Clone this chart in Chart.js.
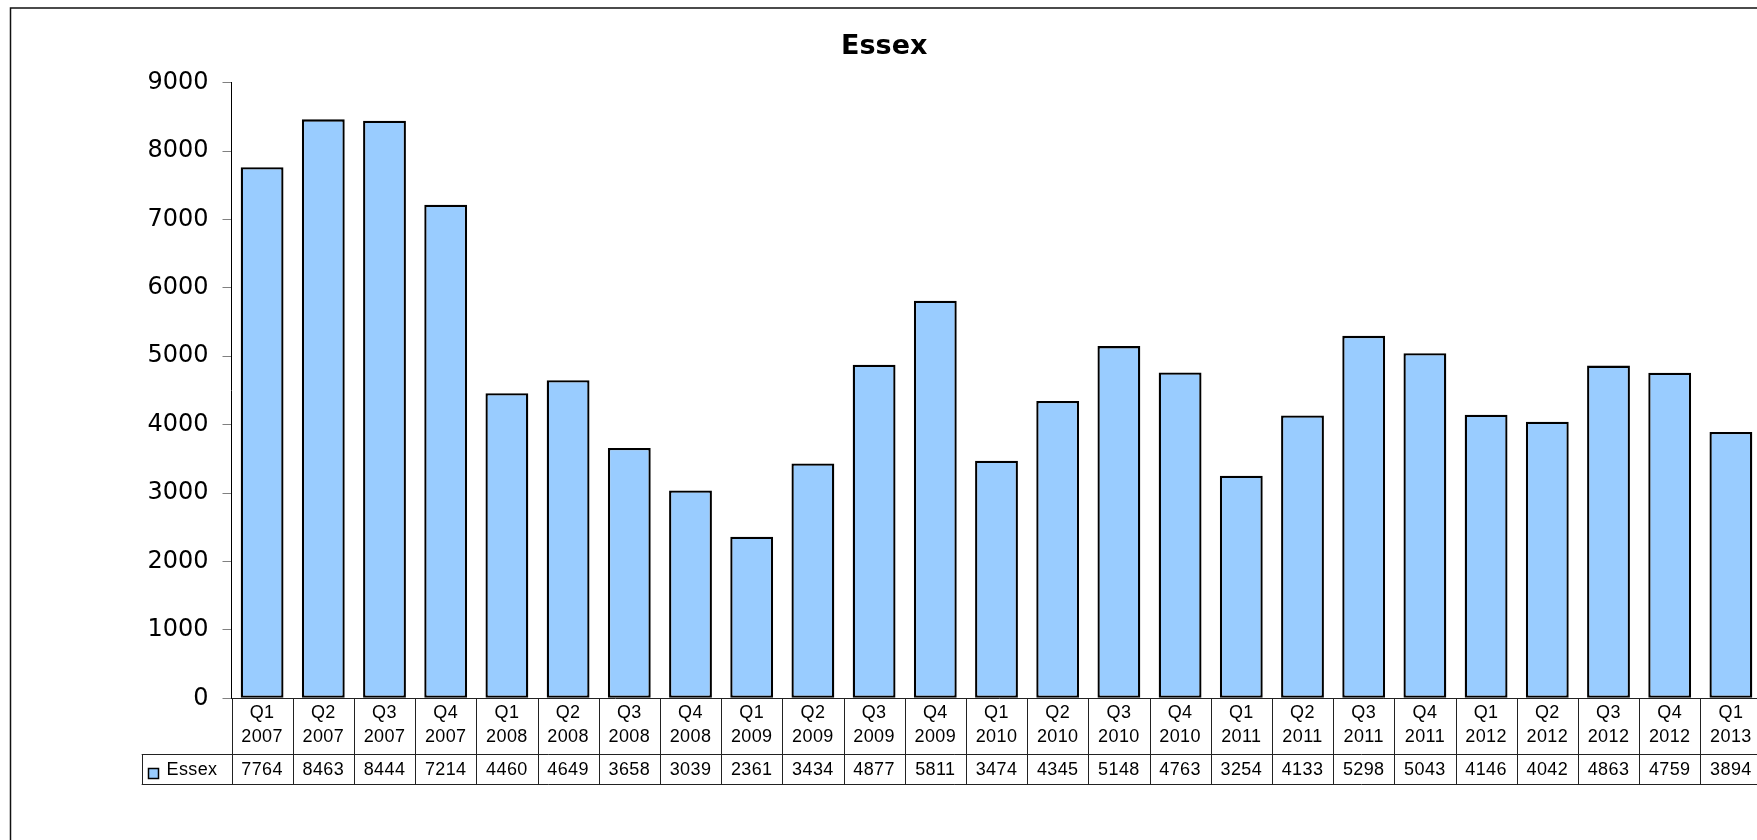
<!DOCTYPE html>
<html>
<head>
<meta charset="utf-8">
<title>Essex</title>
<script src="https://cdn.jsdelivr.net/npm/chart.js@4/dist/chart.umd.min.js"></script>
<style>
  html, body { margin: 0; padding: 0; background: #fff; overflow: hidden; width: 1757px; height: 840px; }
  #wrap { position: absolute; left: 0; top: 0; width: 1768px; height: 840px; }
</style>
</head>
<body>
<div id="wrap"><canvas id="c" width="1768" height="840"></canvas></div>
<script>
// Quarterly figures for Essex, Q1 2007 - Q1 2013
const quarters = ['Q1','Q2','Q3','Q4','Q1','Q2','Q3','Q4','Q1','Q2','Q3','Q4','Q1','Q2','Q3','Q4','Q1','Q2','Q3','Q4','Q1','Q2','Q3','Q4','Q1'];
const years = ['2007','2007','2007','2007','2008','2008','2008','2008','2009','2009','2009','2009','2010','2010','2010','2010','2011','2011','2011','2011','2012','2012','2012','2012','2013'];
const essex = [7764, 8463, 8444, 7214, 4460, 4649, 3658, 3039, 2361, 3434, 4877, 5811, 3474, 4345, 5148, 4763, 3254, 4133, 5298, 5043, 4146, 4042, 4863, 4759, 3894];
const seriesName = 'Essex';
const yMin = 0, yMax = 9000, yStep = 1000;

const labels = quarters.map((q, i) => q + ' ' + years[i]);
const BAR_FILL = '#99CCFF';
const TABLE_FONT = '18px "Liberation Sans", Arial, sans-serif';

// Outer frame of the chart object
const framePlugin = {
  id: 'frame',
  beforeDraw(chart) {
    const ctx = chart.ctx;
    ctx.save();
    ctx.strokeStyle = '#111';
    ctx.lineWidth = 1.5;
    ctx.beginPath();
    ctx.moveTo(10.5, chart.height + 5);
    ctx.lineTo(10.5, 8);
    ctx.lineTo(chart.width + 5, 8);
    ctx.stroke();
    ctx.restore();
  }
};

// Data table under the plot: category rows plus a legend/value row
const tablePlugin = {
  id: 'dataTable',
  afterDraw(chart) {
    const ctx = chart.ctx;
    const xs = chart.scales.x;
    const area = chart.chartArea;
    const n = labels.length;
    const colW = (area.right - area.left) / n;
    const top = area.bottom;
    const mid = area.bottom + 55.7;
    const bot = area.bottom + 85.7;
    const tableLeft = 141.7;
    const px = v => Math.round(v) + 0.5;

    ctx.save();
    ctx.lineWidth = 1;
    ctx.strokeStyle = '#222';
    ctx.beginPath();
    // horizontal rules
    ctx.moveTo(area.left, px(top)); ctx.lineTo(chart.width, px(top));
    ctx.moveTo(tableLeft, px(mid)); ctx.lineTo(chart.width, px(mid));
    ctx.moveTo(tableLeft, px(bot)); ctx.lineTo(chart.width, px(bot));
    // vertical rules
    ctx.moveTo(px(tableLeft), px(mid)); ctx.lineTo(px(tableLeft), px(bot));
    for (let i = 0; i <= n; i++) {
      const xb = xs.getPixelForValue(i) - colW / 2;
      ctx.moveTo(px(xb), top); ctx.lineTo(px(xb), px(bot));
    }
    ctx.stroke();

    ctx.fillStyle = '#000';
    ctx.font = TABLE_FONT;
    ctx.textAlign = 'center';
    ctx.textBaseline = 'middle';
    if ('letterSpacing' in ctx) ctx.letterSpacing = '0.4px';
    for (let i = 0; i < n; i++) {
      const cx = xs.getPixelForValue(i);
      ctx.fillText(quarters[i], cx, top + 15);
      ctx.fillText(years[i], cx, top + 39);
      ctx.fillText(String(essex[i]), cx, mid + 16.5);
    }

    // legend key in the value row
    ctx.fillStyle = BAR_FILL;
    ctx.fillRect(148.5, 768.5, 10, 10);
    ctx.strokeStyle = '#000';
    ctx.lineWidth = 1.5;
    ctx.strokeRect(148.5, 768.5, 10, 10);
    ctx.fillStyle = '#000';
    ctx.textAlign = 'left';
    ctx.fillText(seriesName, 166.5, mid + 16.5);
    ctx.restore();
  }
};

new Chart(document.getElementById('c'), {
  type: 'bar',
  data: {
    labels: labels,
    datasets: [{
      label: seriesName,
      data: essex,
      backgroundColor: BAR_FILL,
      borderColor: '#000',
      borderWidth: 2.3,
      borderSkipped: false,
      barPercentage: 0.7,
      categoryPercentage: 1.0
    }]
  },
  options: {
    responsive: false,
    animation: false,
    devicePixelRatio: 1,
    layout: { padding: { left: 7, right: 6.5, top: 0, bottom: 141.7 } },
    plugins: {
      legend: { display: false },
      tooltip: { enabled: false },
      title: {
        display: true,
        text: 'Essex',
        color: '#000',
        font: { family: '"DejaVu Sans", Verdana, sans-serif', size: 27, weight: 'bold' },
        padding: { top: 31, bottom: 19.2 }
      }
    },
    scales: {
      x: {
        display: false
      },
      y: {
        min: yMin,
        max: yMax,
        afterFit(scale) { scale.width = 224.5; },
        ticks: {
          stepSize: yStep,
          padding: 14,
          color: '#000',
          font: { family: '"DejaVu Sans", Verdana, sans-serif', size: 24 },
          callback: v => String(v)
        },
        grid: {
          drawOnChartArea: false,
          tickLength: 9,
          color: '#808080',
          tickColor: '#808080'
        },
        border: { color: '#000', width: 1 }
      }
    }
  },
  plugins: [framePlugin, tablePlugin]
});
</script>
</body>
</html>
